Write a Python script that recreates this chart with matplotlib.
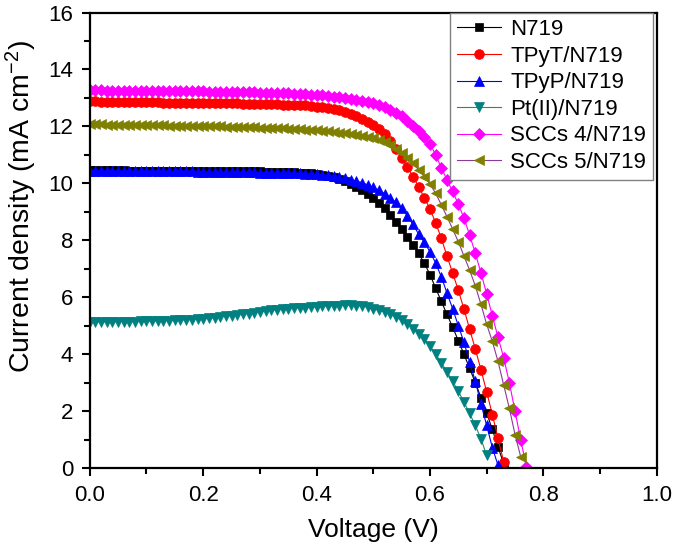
import matplotlib
matplotlib.use("Agg")
import matplotlib.pyplot as plt
from matplotlib.ticker import MultipleLocator

plt.rcParams['font.family'] = ['Liberation Sans', 'DejaVu Sans']
plt.rcParams['mathtext.fontset'] = 'custom'
plt.rcParams['mathtext.rm'] = 'Liberation Sans'
plt.rcParams['mathtext.it'] = 'Liberation Sans:italic'

voltage = [0.00, 0.01, 0.02, 0.03, 0.04, 0.05, 0.06, 0.07, 0.08, 0.09,
           0.10, 0.11, 0.12, 0.13, 0.14, 0.15, 0.16, 0.17, 0.18, 0.19,
           0.20, 0.21, 0.22, 0.23, 0.24, 0.25, 0.26, 0.27, 0.28, 0.29,
           0.30, 0.31, 0.32, 0.33, 0.34, 0.35, 0.36, 0.37, 0.38, 0.39,
           0.40, 0.41, 0.42, 0.43, 0.44, 0.45, 0.46, 0.47, 0.48, 0.49,
           0.50, 0.51, 0.52, 0.53, 0.54, 0.55, 0.56, 0.57, 0.58, 0.59,
           0.60, 0.61, 0.62, 0.63, 0.64, 0.65, 0.66, 0.67, 0.68, 0.69,
           0.70, 0.71, 0.72, 0.73, 0.74, 0.75, 0.76, 0.77]

j_n719 = [10.47, 10.47, 10.46, 10.46, 10.46, 10.46, 10.46, 10.45, 10.45, 10.45,
          10.45, 10.45, 10.45, 10.44, 10.44, 10.44, 10.44, 10.44, 10.44, 10.44,
          10.44, 10.44, 10.43, 10.43, 10.43, 10.43, 10.43, 10.42, 10.42, 10.42,
          10.42, 10.41, 10.41, 10.41, 10.40, 10.40, 10.39, 10.38, 10.37, 10.35,
          10.33, 10.30, 10.27, 10.22, 10.16, 10.08, 9.99, 9.88, 9.76, 9.63,
          9.50, 9.32, 9.12, 8.90, 8.66, 8.40, 8.12, 7.84, 7.54, 7.20,
          6.80, 6.32, 5.86, 5.40, 4.95, 4.48, 4.00, 3.50, 3.00, 2.48,
          1.93, 1.36, 0.75, 0.15]

j_tpyt = [12.88, 12.88, 12.87, 12.87, 12.87, 12.86, 12.86, 12.86, 12.86, 12.85,
          12.85, 12.85, 12.85, 12.84, 12.84, 12.84, 12.84, 12.83, 12.83, 12.83,
          12.83, 12.82, 12.82, 12.82, 12.81, 12.81, 12.81, 12.80, 12.80, 12.80,
          12.79, 12.79, 12.78, 12.78, 12.77, 12.77, 12.76, 12.75, 12.74, 12.72,
          12.70, 12.68, 12.65, 12.61, 12.56, 12.50, 12.43, 12.35, 12.26, 12.17,
          12.06, 11.92, 11.72, 11.48, 11.20, 10.90, 10.58, 10.24, 9.88, 9.50,
          9.10, 8.62, 8.07, 7.45, 6.85, 6.25, 5.58, 4.88, 4.18, 3.45,
          2.68, 1.88, 1.05, 0.22]

j_tpyp = [10.45, 10.45, 10.45, 10.44, 10.44, 10.44, 10.44, 10.44, 10.43, 10.43,
          10.43, 10.43, 10.43, 10.43, 10.42, 10.42, 10.42, 10.42, 10.42, 10.41,
          10.41, 10.41, 10.41, 10.40, 10.40, 10.40, 10.40, 10.39, 10.39, 10.39,
          10.38, 10.38, 10.38, 10.37, 10.37, 10.36, 10.36, 10.35, 10.34, 10.33,
          10.32, 10.30, 10.28, 10.25, 10.22, 10.18, 10.13, 10.08, 10.03, 9.95,
          9.86, 9.76, 9.64, 9.50, 9.33, 9.12, 8.87, 8.56, 8.22, 7.93,
          7.60, 7.20, 6.72, 6.15, 5.60, 5.00, 4.42, 3.72, 3.05, 2.25,
          1.50, 0.72, 0.10]

j_pt = [5.14, 5.14, 5.14, 5.14, 5.14, 5.15, 5.15, 5.15, 5.15, 5.16,
        5.16, 5.16, 5.17, 5.17, 5.18, 5.19, 5.20, 5.21, 5.22, 5.23,
        5.25, 5.27, 5.29, 5.31, 5.33, 5.36, 5.38, 5.41, 5.43, 5.46,
        5.49, 5.52, 5.54, 5.56, 5.58, 5.60, 5.62, 5.63, 5.64, 5.65,
        5.66, 5.68, 5.69, 5.70, 5.71, 5.72, 5.72, 5.71, 5.69, 5.66,
        5.60, 5.55, 5.48, 5.40, 5.31, 5.20, 5.06, 4.90, 4.72, 4.52,
        4.28, 4.00, 3.70, 3.38, 3.05, 2.70, 2.32, 1.92, 1.50, 1.02,
        0.45]

j_scc4 = [13.27, 13.27, 13.27, 13.26, 13.26, 13.26, 13.26, 13.26, 13.25, 13.25,
          13.25, 13.25, 13.25, 13.24, 13.24, 13.24, 13.24, 13.23, 13.23, 13.23,
          13.23, 13.22, 13.22, 13.22, 13.21, 13.21, 13.21, 13.20, 13.20, 13.20,
          13.19, 13.19, 13.18, 13.18, 13.17, 13.16, 13.15, 13.14, 13.13, 13.12,
          13.10, 13.09, 13.07, 13.05, 13.03, 13.00, 12.97, 12.94, 12.90, 12.86,
          12.81, 12.75, 12.68, 12.58, 12.47, 12.35, 12.20, 12.03, 11.83, 11.62,
          11.40, 11.00, 10.55, 10.12, 9.72, 9.27, 8.78, 8.18, 7.55, 6.85,
          6.12, 5.35, 4.60, 3.88, 3.00, 2.00, 1.00, 0.05]

j_scc5 = [12.07, 12.07, 12.07, 12.06, 12.06, 12.06, 12.06, 12.05, 12.05, 12.05,
          12.05, 12.04, 12.04, 12.04, 12.03, 12.03, 12.03, 12.02, 12.02, 12.02,
          12.01, 12.01, 12.00, 12.00, 11.99, 11.99, 11.98, 11.98, 11.97, 11.97,
          11.96, 11.96, 11.95, 11.94, 11.93, 11.92, 11.91, 11.90, 11.89, 11.88,
          11.86, 11.85, 11.83, 11.81, 11.78, 11.76, 11.73, 11.70, 11.67, 11.63,
          11.58, 11.52, 11.44, 11.34, 11.22, 11.07, 10.90, 10.70, 10.48, 10.24,
          9.98, 9.65, 9.25, 8.83, 8.40, 7.95, 7.45, 6.95, 6.40, 5.75,
          5.05, 4.45, 3.75, 2.92, 2.10, 1.18, 0.40]

labels = ['N719', 'TPyT/N719', 'TPyP/N719', 'Pt(II)/N719', 'SCCs 4/N719', 'SCCs 5/N719']
series = [j_n719, j_tpyt, j_tpyp, j_pt, j_scc4, j_scc5]
line_colors = ['#000000', '#ff0000', '#0000ff', '#2e8b57', '#ff00ff', '#8b3a9b']
marker_colors = ['#000000', '#ff0000', '#0000ff', '#008080', '#ff00ff', '#808000']
markers = ['s', 'o', '^', 'v', 'D', '<']
msizes = [6.0, 7.0, 7.5, 7.5, 6.5, 7.5]

fig = plt.figure(figsize=(6.75, 5.45), dpi=100)
ax = fig.add_axes([0.133, 0.141, 0.840, 0.836])

for j, lab, lc, mc, mk, ms in zip(series, labels, line_colors, marker_colors, markers, msizes):
    ax.plot(voltage[:len(j)], j, color=lc, lw=0.8, marker=mk, ms=ms,
            markerfacecolor=mc, markeredgecolor=mc, markeredgewidth=0.5,
            label=lab, clip_on=True)

ax.set_xlim(0.0, 1.0)
ax.set_ylim(0, 16)
ax.xaxis.set_major_locator(MultipleLocator(0.2))
ax.xaxis.set_minor_locator(MultipleLocator(0.1))
ax.yaxis.set_major_locator(MultipleLocator(2))
ax.yaxis.set_minor_locator(MultipleLocator(1))
ax.set_xticks([0.0, 0.2, 0.4, 0.6, 0.8, 1.0])
ax.set_xticklabels(['0.0', '0.2', '0.4', '0.6', '0.8', '1.0'])
ax.tick_params(which='major', direction='out', length=6, width=1.5, labelsize=16, pad=6)
ax.tick_params(which='minor', direction='out', length=4, width=1.5)
ax.tick_params(top=False, right=False, which='both')
for s in ax.spines.values():
    s.set_linewidth(1.6)

ax.set_xlabel('Voltage (V)', fontsize=19, labelpad=9)
ax.set_ylabel('Current density (mA cm$^{-2}$)', fontsize=20.5)
ax.yaxis.set_label_coords(-0.089, 0.575)

leg = ax.legend(loc='upper right', bbox_to_anchor=(0.993, 1.0), borderaxespad=0,
                fontsize=16, frameon=True, fancybox=False, framealpha=1,
                edgecolor='#808080', handlelength=2.0, handletextpad=0.4,
                labelspacing=0.25, borderpad=0.3, markerscale=1.0)
leg.get_frame().set_linewidth(1.0)

fig.savefig('out.png', dpi=100)
